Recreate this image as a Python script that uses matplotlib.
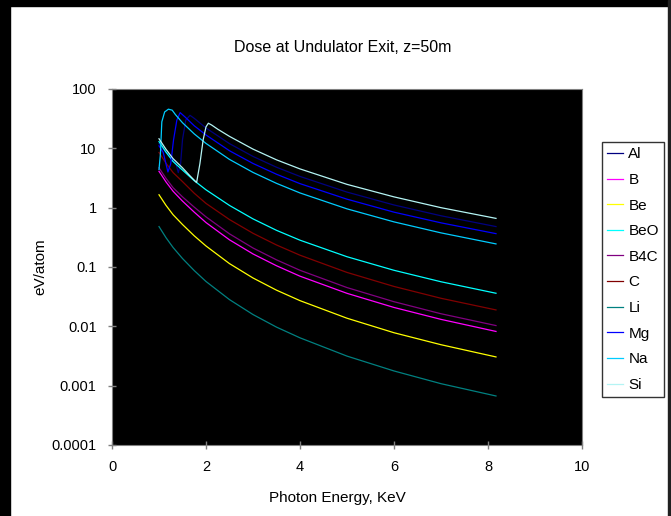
import matplotlib
matplotlib.use('Agg')
import matplotlib.pyplot as plt
from matplotlib.patches import Rectangle
from matplotlib.ticker import FixedLocator, FixedFormatter

plt.rcParams['font.family'] = ['Liberation Sans', 'DejaVu Sans']

# photon energy (keV) for the smooth curves
energy = [1.0, 1.15, 1.3, 1.5, 1.75, 2.0, 2.5, 3.0, 3.5, 4.0, 5.0, 6.0, 7.0, 8.17]

dose_B = [4.1, 2.71, 1.89, 1.29, 0.84, 0.561, 0.287, 0.166, 0.105, 0.070, 0.036, 0.0208, 0.0131, 0.0082]
dose_Be = [1.65, 1.09, 0.76, 0.52, 0.335, 0.226, 0.114, 0.0653, 0.0407, 0.0271, 0.0137, 0.0078, 0.0049, 0.00305]
dose_BeO = [13, 8.6, 6.0, 4.3, 2.85, 2.0, 1.09, 0.647, 0.415, 0.283, 0.149, 0.088, 0.0564, 0.0361]
dose_B4C = [4.7, 3.11, 2.17, 1.52, 1.02, 0.70, 0.362, 0.209, 0.132, 0.088, 0.045, 0.026, 0.0163, 0.0103]
dose_C = [8.5, 5.6, 3.9, 2.75, 1.75, 1.18, 0.63, 0.37, 0.235, 0.158, 0.081, 0.047, 0.0297, 0.0189]
dose_Li = [0.48, 0.311, 0.213, 0.139, 0.087, 0.057, 0.0282, 0.0158, 0.0097, 0.0064, 0.00315, 0.00177, 0.00108, 0.00067]

# curves with a K edge inside the range
energy_Al = [1.0, 1.15, 1.3, 1.36, 1.41, 1.46, 1.5, 1.57, 1.66, 1.75, 2.0, 2.5, 3.0, 3.5, 4.0, 5.0, 6.0, 7.0, 8.17]
dose_Al = [12, 8.5, 6.5, 5.5, 3.9, 5.5, 14, 30, 36, 32, 22, 12, 7.3, 4.8, 3.36, 1.83, 1.11, 0.73, 0.48]

energy_Mg = [1.0, 1.09, 1.19, 1.25, 1.31, 1.38, 1.45, 1.55, 1.75, 2.0, 2.5, 3.0, 3.5, 4.0, 5.0, 6.0, 7.0, 8.17]
dose_Mg = [11, 8.5, 4.0, 5.5, 14, 30, 40, 34, 24, 16.8, 9.1, 5.56, 3.66, 2.54, 1.39, 0.84, 0.555, 0.365]

energy_Na = [1.0, 1.03, 1.06, 1.12, 1.2, 1.28, 1.35, 1.5, 1.75, 2.0, 2.5, 3.0, 3.5, 4.0, 5.0, 6.0, 7.0, 8.17]
dose_Na = [4.4, 8, 28, 41, 45.7, 44, 37, 27, 17.5, 12.1, 6.5, 3.93, 2.57, 1.77, 0.955, 0.576, 0.376, 0.245]

energy_Si = [1.0, 1.15, 1.3, 1.5, 1.65, 1.8, 1.87, 1.94, 2.0, 2.05, 2.12, 2.25, 2.5, 3.0, 3.5, 4.0, 5.0, 6.0, 7.0, 8.17]
dose_Si = [14.5, 9.6, 6.7, 4.7, 3.5, 2.65, 5.5, 14, 23, 26.5, 24.7, 21, 15.9, 9.7, 6.4, 4.5, 2.47, 1.52, 1.0, 0.66]

y_ticks = [0.0001, 0.001, 0.01, 0.1, 1, 10, 100]
y_labels = ['0.0001', '0.001', '0.01', '0.1', '1', '10', '100']

fig = plt.figure(figsize=(6.71, 5.16), dpi=100)
ax = fig.add_axes([112/671, 1-445/516, 470/671, 356/516])
ax.set_facecolor('black')

lw = 0.9
ax.plot(energy_Al, dose_Al, color='#000080', lw=lw, label='Al')
ax.plot(energy, dose_B, color='#FF00FF', lw=lw, label='B')
ax.plot(energy, dose_Be, color='#FFFF00', lw=lw, label='Be')
ax.plot(energy, dose_BeO, color='#00FFFF', lw=lw, label='BeO')
ax.plot(energy, dose_B4C, color='#800080', lw=lw, label='B4C')
ax.plot(energy, dose_C, color='#800000', lw=lw, label='C')
ax.plot(energy, dose_Li, color='#008080', lw=lw, label='Li')
ax.plot(energy_Mg, dose_Mg, color='#0000FF', lw=lw, label='Mg')
ax.plot(energy_Na, dose_Na, color='#00CCFF', lw=lw, label='Na')
ax.plot(energy_Si, dose_Si, color='#B4F4F4', lw=lw, label='Si')

ax.set_yscale('log')
ax.set_xlim(0, 10)
ax.set_ylim(0.0001, 100)
ax.yaxis.set_major_locator(FixedLocator(y_ticks))
ax.yaxis.set_major_formatter(FixedFormatter(y_labels))
ax.yaxis.set_minor_locator(FixedLocator([]))
ax.set_xticks([0, 2, 4, 6, 8, 10])
ax.tick_params(axis='both', which='major', labelsize=10.5, direction='inout',
               length=6, width=1, color='#808080', pad=8)
for s in ax.spines.values():
    s.set_color('#808080')

fig.text(343/671, 1-48/516, 'Dose at Undulator Exit, z=50m', ha='center', va='center', fontsize=11.5)
fig.text(337/671, 1-498/516, 'Photon Energy, KeV', ha='center', va='center', fontsize=11)
fig.text(40/671, 1-267/516, 'eV/atom', ha='center', va='center', rotation=90, fontsize=11)

leg = ax.legend(loc='upper left', bbox_to_anchor=(602/671, 1-142/516), bbox_transform=fig.transFigure,
                fontsize=11, frameon=True, fancybox=False, edgecolor='black', facecolor='white',
                handlelength=1.05, handletextpad=0.33, labelspacing=0.76, borderpad=0.35, borderaxespad=0)
leg.get_frame().set_linewidth(1)

# black frame bits round the picture
fig.patches.append(Rectangle((0, 0), 10/671, 1, transform=fig.transFigure, color='black'))
fig.patches.append(Rectangle((0, 1-6/516), 1, 6/516, transform=fig.transFigure, color='black'))
fig.patches.append(Rectangle((1-3/671, 0), 3/671, 1, transform=fig.transFigure, color='#202020'))

plt.savefig('out.png', dpi=100)
